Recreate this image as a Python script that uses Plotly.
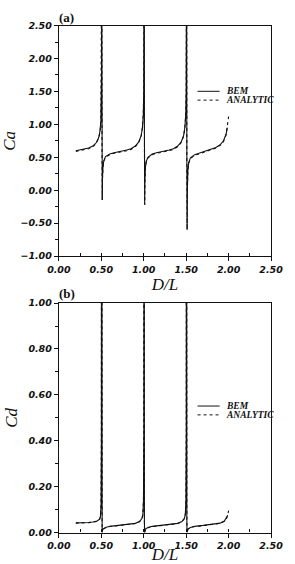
import plotly.graph_objects as go

# ---- data ----
ca_dl_bem = [0.20, 0.25, 0.30, 0.35, 0.40, 0.44, 0.47, 0.485, 0.495, 0.500, 0.503, 0.505, 0.508, 0.511, 0.514, 0.52, 0.53, 0.55,
             0.60, 0.65, 0.70, 0.75, 0.80, 0.85, 0.90, 0.94, 0.97, 0.985, 0.995, 1.000, 1.003, 1.005, 1.008, 1.011, 1.014, 1.02, 1.03, 1.05,
             1.10, 1.15, 1.20, 1.25, 1.30, 1.35, 1.40, 1.44, 1.47, 1.485, 1.495, 1.500, 1.503, 1.505, 1.508, 1.511, 1.514, 1.52, 1.53, 1.55,
             1.60, 1.65, 1.70, 1.75, 1.80, 1.85, 1.90, 1.94, 1.97, 1.985]
ca_bem = [0.60, 0.61, 0.62, 0.64, 0.67, 0.72, 0.80, 0.90, 1.05, 1.30, 1.80, 4.00, 1.00, -0.15, 0.18, 0.36, 0.45, 0.51,
          0.55, 0.57, 0.58, 0.59, 0.61, 0.63, 0.67, 0.73, 0.83, 0.96, 1.15, 1.50, 2.20, 4.00, 1.00, -0.22, 0.14, 0.35, 0.44, 0.50,
          0.55, 0.57, 0.58, 0.59, 0.61, 0.63, 0.67, 0.73, 0.83, 0.96, 1.15, 1.50, 2.20, 4.00, 0.50, -0.60, 0.00, 0.30, 0.42, 0.49,
          0.54, 0.56, 0.58, 0.60, 0.62, 0.65, 0.69, 0.75, 0.85, 0.95]
ca_dl_an = ca_dl_bem + [2.00]
ca_an = [0.59, 0.60, 0.61, 0.63, 0.66, 0.71, 0.79, 0.89, 1.04, 1.30, 1.80, 4.00, 1.00, -0.15, 0.17, 0.35, 0.44, 0.50,
         0.54, 0.56, 0.57, 0.58, 0.60, 0.62, 0.66, 0.72, 0.82, 0.95, 1.15, 1.50, 2.20, 4.00, 1.00, -0.22, 0.13, 0.34, 0.43, 0.49,
         0.54, 0.56, 0.57, 0.58, 0.60, 0.62, 0.66, 0.72, 0.82, 0.95, 1.15, 1.50, 2.20, 4.00, 0.50, -0.60, 0.00, 0.29, 0.41, 0.48,
         0.53, 0.55, 0.57, 0.59, 0.61, 0.64, 0.68, 0.74, 0.84, 0.95, 1.12]

cd_dl_bem = [0.20, 0.25, 0.30, 0.35, 0.40, 0.45, 0.48, 0.49, 0.497, 0.501, 0.504, 0.506, 0.508, 0.510, 0.513, 0.52, 0.55,
             0.60, 0.70, 0.80, 0.90, 0.95, 0.98, 0.99, 0.997, 1.001, 1.004, 1.006, 1.008, 1.010, 1.013, 1.02, 1.05,
             1.10, 1.20, 1.30, 1.40, 1.45, 1.48, 1.49, 1.497, 1.501, 1.504, 1.506, 1.508, 1.510, 1.513, 1.52, 1.55,
             1.60, 1.70, 1.80, 1.90, 1.95, 1.98, 1.99]
cd_bem = [0.042, 0.042, 0.043, 0.044, 0.046, 0.050, 0.058, 0.070, 0.12, 0.40, 3.00, 0.50, 0.05, 0.000, 0.008, 0.015, 0.022,
          0.027, 0.031, 0.035, 0.040, 0.048, 0.062, 0.080, 0.14, 0.45, 3.00, 0.50, 0.05, 0.000, 0.008, 0.015, 0.022,
          0.027, 0.031, 0.035, 0.040, 0.048, 0.062, 0.080, 0.14, 0.45, 3.00, 0.50, 0.05, 0.000, 0.008, 0.015, 0.022,
          0.027, 0.031, 0.035, 0.041, 0.050, 0.065, 0.075]
cd_dl_an = cd_dl_bem + [2.00]
cd_an = [0.041, 0.041, 0.042, 0.043, 0.045, 0.049, 0.057, 0.069, 0.12, 0.40, 3.00, 0.50, 0.05, 0.000, 0.007, 0.014, 0.021,
         0.026, 0.030, 0.034, 0.039, 0.047, 0.061, 0.079, 0.14, 0.45, 3.00, 0.50, 0.05, 0.000, 0.007, 0.014, 0.021,
         0.026, 0.030, 0.034, 0.039, 0.047, 0.061, 0.079, 0.14, 0.45, 3.00, 0.50, 0.05, 0.000, 0.007, 0.014, 0.021,
         0.026, 0.030, 0.034, 0.040, 0.049, 0.064, 0.078, 0.095]

x_ticks = [0.0, 0.5, 1.0, 1.5, 2.0, 2.5]
ca_ticks = [-1.0, -0.5, 0.0, 0.5, 1.0, 1.5, 2.0, 2.5]
cd_ticks = [0.0, 0.2, 0.4, 0.6, 0.8, 1.0]
series_names = ["BEM", "ANALYTIC"]

INK = "#111"
TICKFONT = dict(family="DejaVu Sans", size=9.5, color=INK, weight="bold", style="italic")
TITLEFONT = dict(family="Liberation Serif", size=17, color=INK, style="italic")
LEGFONT = dict(family="Liberation Serif", size=9.5, color=INK, weight="bold", style="italic")

fig = go.Figure()
fig.add_trace(go.Scatter(x=ca_dl_bem, y=ca_bem, mode="lines", name=series_names[0], showlegend=False,
                         line=dict(color=INK, width=1.1), xaxis="x", yaxis="y"))
fig.add_trace(go.Scatter(x=ca_dl_an, y=ca_an, mode="lines", name=series_names[1], showlegend=False,
                         line=dict(color=INK, width=1.1, dash="dot"), xaxis="x", yaxis="y"))
fig.add_trace(go.Scatter(x=cd_dl_bem, y=cd_bem, mode="lines", name=series_names[0], showlegend=False,
                         line=dict(color=INK, width=1.1), xaxis="x2", yaxis="y2"))
fig.add_trace(go.Scatter(x=cd_dl_an, y=cd_an, mode="lines", name=series_names[1], showlegend=False,
                         line=dict(color=INK, width=1.1, dash="dot"), xaxis="x2", yaxis="y2"))

W, H = 295, 564
xd = [51 / W, 282 / W]

def xaxis(anchor):
    return dict(domain=xd, range=[0, 2.5], tickvals=x_ticks, ticktext=[f"{v:.2f}" for v in x_ticks],
                ticks="outside", ticklen=4, tickwidth=1, tickcolor=INK,
                minor=dict(dtick=0.25, tick0=0, ticks="inside", ticklen=3, tickcolor=INK),
                showline=True, linecolor=INK, linewidth=1.2, mirror=True, showgrid=False, zeroline=False,
                tickfont=TICKFONT, anchor=anchor,
                title=dict(text="D/L", font=TITLEFONT, standoff=0))

def yaxis(anchor, dom, rng, ticks, minor, title):
    return dict(domain=dom, range=rng, tickvals=ticks, ticktext=[f"{v:.2f}".replace("-", "\u2212") for v in ticks],
                ticks="outside", ticklen=4, tickwidth=1, tickcolor=INK,
                minor=dict(dtick=minor, tick0=0, ticks="outside", ticklen=3, tickcolor=INK),
                showline=True, linecolor=INK, linewidth=1.2, mirror=True, showgrid=False, zeroline=False,
                tickfont=TICKFONT, anchor=anchor,
                title=dict(text=title, font=TITLEFONT, standoff=6))

# manual legends (sample line + label), positioned in paper pixels
legend_rows = [(87, 96), (408, 417)]
shapes, annotations = [], []
for (yb, ya) in legend_rows:
    for yy, dash, name in [(yb, "solid", series_names[0]), (ya, "dot", series_names[1])]:
        shapes.append(dict(type="line", xref="paper", yref="paper", x0=202 / W, x1=226 / W,
                           y0=1 - yy / H, y1=1 - yy / H, line=dict(color=INK, width=1, dash=dash)))
        annotations.append(dict(text=name, x=231 / W, y=1 - yy / H, xref="paper", yref="paper",
                                xanchor="left", yanchor="middle", showarrow=False, font=LEGFONT))

for lab, yy in [("(a)", 12), ("(b)", 293)]:
    annotations.append(dict(text=f"<b>{lab}</b>", x=49 / W, y=1 - yy / H, xref="paper", yref="paper",
                            xanchor="left", yanchor="middle", showarrow=False,
                            font=dict(family="Liberation Serif", size=13, color=INK)))

fig.update_layout(
    width=W, height=H, margin=dict(l=0, r=0, t=0, b=0),
    paper_bgcolor="white", plot_bgcolor="white",
    xaxis=xaxis("y"),
    yaxis=yaxis("x", [1 - 255 / H, 1 - 20 / H], [-1.0, 2.5], ca_ticks, 0.25, "Ca"),
    xaxis2=xaxis("y2"),
    yaxis2=yaxis("x2", [1 - 537 / H, 1 - 303 / H], [0.0, 1.0], cd_ticks, 0.1, "Cd"),
    shapes=shapes, annotations=annotations,
)

fig.write_html("out.html")
